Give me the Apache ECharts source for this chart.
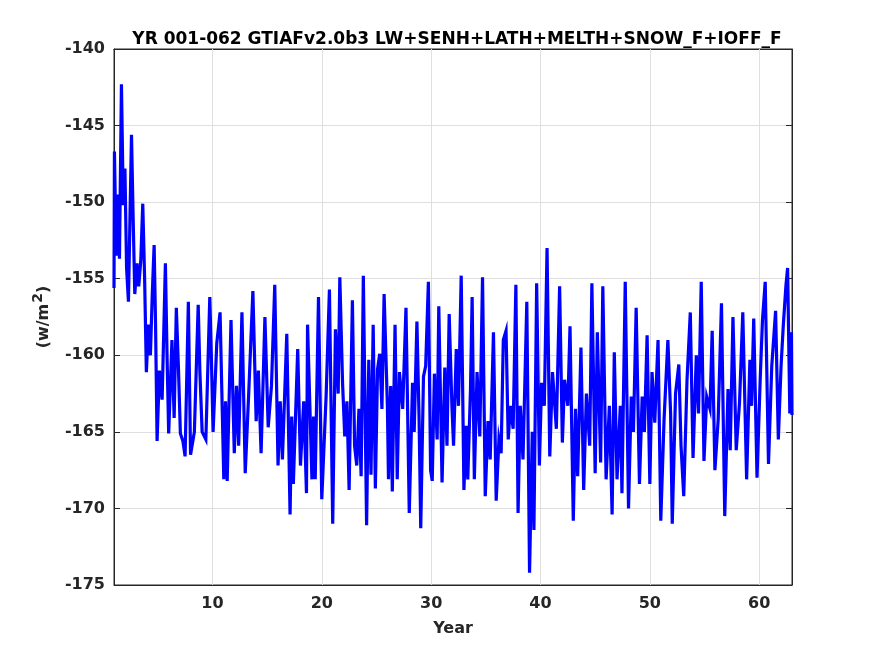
<!DOCTYPE html>
<html>
<head>
<meta charset="utf-8">
<script src="https://cdn.jsdelivr.net/npm/echarts@6/dist/echarts.min.js"></script>
<style>
  html, body { margin: 0; padding: 0; background: #fff; }
  #chart { width: 875px; height: 656px; }
</style>
</head>
<body>
<div id="chart"></div>
<script>
// values (peaks, troughs and a few points between)
var years = [
  1.0, 1.04, 1.2, 1.34, 1.5, 1.68, 1.85, 2.0, 2.15, 2.32, 2.6, 2.75, 2.9, 3.1, 3.26, 3.45, 3.63, 3.8, 3.96,
  4.15, 4.33, 4.5, 4.67, 4.8, 4.94, 5.15, 5.4, 5.7, 5.85, 6.0, 6.3, 6.5, 6.7, 6.9, 7.07, 7.3, 7.5, 7.8,
  8.0, 8.35, 8.7, 8.85, 9.06, 9.4, 9.76, 9.9, 10.06, 10.4, 10.7, 11.04, 11.2, 11.35, 11.7, 12.0, 12.2,
  12.4, 12.7, 13.0, 13.3, 13.7, 14.0, 14.2, 14.45, 14.8, 15.1, 15.4, 15.7, 16.0, 16.2, 16.4, 16.8, 17.1,
  17.25, 17.4, 17.8, 18.05, 18.35, 18.6, 18.7, 19.1, 19.25, 19.4, 19.7, 20.0, 20.4, 20.7, 21.0, 21.25,
  21.5, 21.65, 21.9, 22.1, 22.3, 22.5, 22.8, 23.0, 23.2, 23.4, 23.6, 23.8, 24.1, 24.3, 24.5, 24.7, 24.9,
  25.1, 25.3, 25.5, 25.7, 26.0, 26.1, 26.3, 26.45, 26.7, 26.9, 27.1, 27.4, 27.7, 28.0, 28.3, 28.45, 28.7,
  28.9, 29.05, 29.3, 29.5, 29.75, 29.95, 30.1, 30.3, 30.55, 30.7, 31.0, 31.25, 31.45, 31.65, 31.9, 32.05,
  32.3, 32.5, 32.75, 33.0, 33.2, 33.35, 33.6, 33.75, 33.95, 34.2, 34.45, 34.7, 34.95, 35.2, 35.4, 35.7,
  35.95, 36.2, 36.4, 36.6, 36.85, 37.05, 37.25, 37.5, 37.75, 37.95, 38.15, 38.4, 38.75, 39.0, 39.25, 39.4,
  39.65, 39.9, 40.1, 40.35, 40.6, 40.85, 41.1, 41.45, 41.75, 42.0, 42.2, 42.5, 42.7, 43.0, 43.2, 43.4,
  43.7, 43.95, 44.2, 44.5, 44.7, 45.0, 45.2, 45.5, 45.7, 46.0, 46.3, 46.55, 46.75, 47.0, 47.3, 47.45,
  47.75, 48.05, 48.3, 48.5, 48.75, 49.05, 49.3, 49.5, 49.75, 50.0, 50.2, 50.45, 50.75, 51.0, 51.3, 51.65,
  51.9, 52.05, 52.35, 52.65, 52.85, 53.1, 53.4, 53.7, 53.95, 54.25, 54.45, 54.7, 54.95, 55.2, 55.5, 55.7,
  55.95, 56.25, 56.55, 56.85, 57.15, 57.35, 57.6, 57.9, 58.2, 58.5, 58.85, 59.15, 59.3, 59.5, 59.8, 60.1,
  60.3, 60.55, 60.85, 61.15, 61.5, 61.75, 62.0, 62.2, 62.45, 62.6, 62.8, 62.95, 63.0
];
var flux = [
  -155.6, -146.7, -153.5, -149.5, -153.7, -142.3, -150.2, -147.8, -154.3, -156.5, -145.6, -151, -156, -154, -155.5, -153.8, -150.1, -155, -161.1,
  -158, -160, -156, -152.8, -158, -165.6, -161, -162.9, -154, -160, -165.1, -159, -164.1, -156.9, -161, -165.1, -165.6, -166.6, -156.5,
  -166.5, -165, -156.7, -161, -165, -165.5, -156.2, -160, -165, -159.2, -157.2, -168.1, -163, -168.2, -157.7, -166.4, -162,
  -165.9, -157.2, -167.7, -162.8, -155.8, -164.3, -161, -166.4, -157.5, -164.7, -162, -155.4, -167.2, -163, -166.8, -158.6, -170.4,
  -164, -168.4, -159.6, -167.2, -163, -169, -158, -168.1, -164, -168.1, -156.2, -169.4, -162.6, -155.7, -171, -158.3,
  -162.5, -154.9, -161.8, -165.3, -163, -168.8, -156.4, -165.9, -167.2, -163.5, -167.9, -154.8, -171.1, -160.3, -167.8, -158, -168.7,
  -160.9, -159.9, -163.5, -156, -163.3, -168.1, -162, -168.9, -158, -168.1, -161.1, -163.5, -156.9, -170.3, -161.8, -165, -157.8,
  -164.2, -171.3, -161.4, -160.7, -155.2, -167.5, -168.2, -161.2, -165.5, -156.8, -168.3, -160.8, -165.9, -157.3, -163.3, -165.9,
  -159.6, -163.3, -154.8, -168.8, -164.6, -168.1, -162.2, -156.2, -168.1, -161.1, -165.3, -154.9, -169.2, -164.3, -166.8, -158.5,
  -169.5, -165.5, -166.4, -159, -158.4, -165.5, -163.3, -164.8, -155.4, -170.3, -163.3, -166.8, -156.5, -174.2, -165, -171.4,
  -155.3, -167.2, -161.8, -163.3, -153.0, -166.6, -161.1, -164.8, -155.5, -165.7, -161.6, -163.3, -158.1, -170.8, -163.5, -167.9,
  -159.5, -168.8, -162.5, -165.9, -155.3, -167.7, -158.5, -167, -155.5, -168.1, -163.3, -170.4, -159.8, -168.1, -163.3, -169,
  -155.2, -170, -162.7, -165, -156.9, -168.4, -162.7, -165, -158.7, -168.4, -161.1, -164.4, -159, -170.8, -164.2, -159,
  -163.8, -171, -162.5, -160.6, -165.9, -169.2, -161.6, -157.2, -166.7, -160, -163.8, -155.2, -166.9, -162.7, -163.5, -158.4,
  -167.5, -164.2, -156.6, -170.5, -162.2, -166.2, -157.5, -166.2, -163.1, -157.2, -168.1, -160.3, -163.3, -157.6, -168, -161.4,
  -157.7, -155.2, -167.1, -160.7, -157.1, -165.5, -160.7, -158.1, -155.4, -154.3, -163.8, -158.5, -163.9
];
var xTicks = [10, 20, 30, 40, 50, 60];
var titleText = 'YR 001-062 GTIAFv2.0b3 LW+SENH+LATH+MELTH+SNOW_F+IOFF_F';

var ink = '#262626';
var font = 'DejaVu Sans';
var chart = echarts.init(document.getElementById('chart'));

var pts = years.map(function (y, i) { return [y, flux[i]]; });

var option = {
  backgroundColor: '#fff',
  animation: false,
  title: {
    text: titleText,
    left: 452, top: 26, textAlign: 'center',
    textStyle: { fontFamily: font, fontWeight: 'bold', fontSize: 17, color: '#000' }
  },
  grid: { left: 114, right: 83, top: 49, bottom: 71, show: true, borderColor: ink, borderWidth: 1 },
  xAxis: [{
    type: 'value', min: 1, max: 63,
    name: 'Year', nameLocation: 'middle', nameGap: 36,
    nameTextStyle: { fontFamily: font, fontWeight: 'bold', fontSize: 16, color: ink },
    axisLine: { show: true, lineStyle: { color: ink } },
    axisTick: { show: true, inside: true, length: 6, customValues: xTicks, lineStyle: { color: ink } },
    axisLabel: { customValues: xTicks, margin: 11, fontFamily: font, fontWeight: 'bold', fontSize: 16, color: ink },
    splitLine: { show: false }
  }, {
    type: 'value', position: 'top', min: 1, max: 63,
    axisLine: { show: true, lineStyle: { color: ink } },
    axisTick: { show: true, inside: true, length: 6, customValues: xTicks, lineStyle: { color: ink } },
    axisLabel: { show: false },
    splitLine: { show: false }
  }],
  yAxis: [{
    type: 'value', min: -175, max: -140, interval: 5,
    name: '{a|(w/m}{b|2}{a|)}', nameLocation: 'middle', nameGap: 58, nameRotate: 90,
    nameTextStyle: {
      rich: {
        a: { fontFamily: font, fontWeight: 'bold', fontSize: 16, color: ink },
        b: { fontFamily: font, fontWeight: 'bold', fontSize: 14, color: ink, padding: [0, 0, 11, 1] }
      }
    },
    axisLine: { show: true, lineStyle: { color: ink } },
    axisTick: { show: true, inside: true, length: 6, lineStyle: { color: ink } },
    axisLabel: { margin: 9, fontFamily: font, fontWeight: 'bold', fontSize: 16, color: ink },
    splitLine: { show: true, lineStyle: { color: '#dfdfdf', width: 1 } }
  }, {
    type: 'value', position: 'right', min: -175, max: -140, interval: 5,
    axisLine: { show: true, lineStyle: { color: ink } },
    axisTick: { show: true, inside: true, length: 6, lineStyle: { color: ink } },
    axisLabel: { show: false },
    splitLine: { show: false }
  }],
  series: [{
    type: 'line',
    data: pts,
    showSymbol: false,
    symbol: 'none',
    lineStyle: { color: '#0000ff', width: 3.2, join: 'miter' },
    markLine: {
      silent: true, symbol: 'none', label: { show: false },
      lineStyle: { color: '#dfdfdf', width: 1, type: 'solid' },
      z: 1,
      data: xTicks.map(function (v) { return { xAxis: v }; })
    },
    z: 3
  }]
};

chart.setOption(option);
</script>
</body>
</html>
